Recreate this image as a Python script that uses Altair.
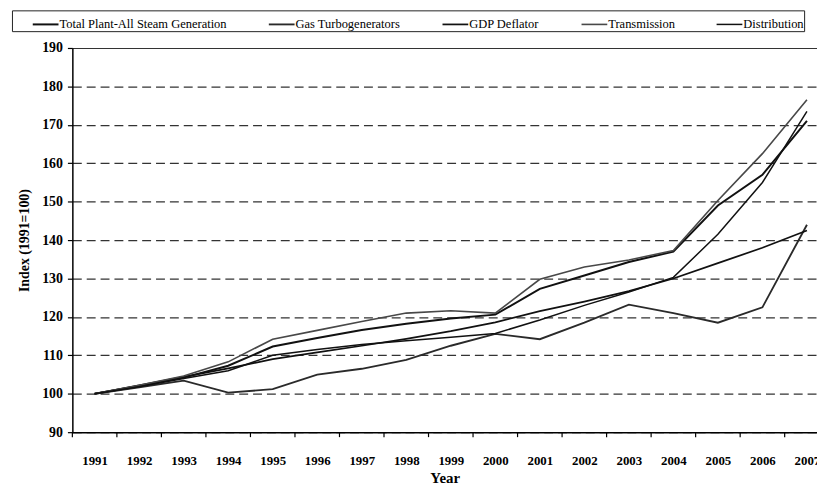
import altair as alt
import pandas as pd

years = list(range(1991, 2008))

total_plant = [100, 102.0, 104.2, 107.3, 112.3, 114.5, 116.6, 118.2, 119.6, 120.6,
               127.3, 130.8, 134.3, 137.0, 149.0, 157.0, 171.0]
gas_turbo = [100, 101.7, 103.4, 100.3, 101.2, 105.0, 106.5, 108.8, 112.5, 115.6,
             114.2, 118.5, 123.2, 121.0, 118.5, 122.5, 144.0]
gdp_deflator = [100, 102.2, 104.4, 106.6, 109.0, 110.8, 112.5, 114.3, 116.3, 118.6,
                121.5, 124.0, 126.7, 130.0, 134.0, 138.0, 142.5]
transmission = [100, 102.2, 104.6, 108.3, 114.2, 116.5, 118.8, 121.0, 121.6, 121.0,
                129.8, 133.0, 134.8, 137.3, 150.3, 162.5, 176.5]
distribution = [100, 101.8, 104.0, 106.0, 110.0, 111.5, 112.8, 113.8, 114.7, 115.7,
                119.2, 123.0, 126.5, 130.3, 141.5, 155.0, 173.5]

series_names = ["Total Plant-All Steam Generation", "Gas Turbogenerators",
                "GDP Deflator", "Transmission", "Distribution"]
series_values = [total_plant, gas_turbo, gdp_deflator, transmission, distribution]
series_colors = ["#111111", "#2a2a2a", "#111111", "#484848", "#111111"]
series_widths = [2.0, 1.5, 3.5, 1.5, 2.2]

y_ticks = list(range(90, 191, 10))
x_ticks = [y - 0.5 for y in years]

rows = []
for name, vals in zip(series_names, series_values):
    for yr, v in zip(years, vals):
        rows.append({"Year": yr, "Index": v, "Series": name})
df = pd.DataFrame(rows)
tick_df = pd.DataFrame({"Year": x_ticks})

FONT = "Liberation Serif"
x_scale = alt.Scale(domain=[1990.5, 2007.226], nice=False, zero=False)

x_axis = alt.Axis(values=years, format="d", labelFont=FONT, labelFontSize=13,
                  labelFontWeight="bold", labelColor="black",
                  labelOverlap=False, labelFlush=False, labelBound=False,
                  ticks=False, domainColor="black", domainWidth=1.5, labelPadding=23,
                  grid=False, title="Year", titleFont=FONT, titleFontSize=15,
                  titleFontWeight="bold", titleColor="black", titlePadding=3)

NBSP = "\u00a0" * 5
legend = alt.Legend(
    orient="none", legendX=-61, legendY=-38, direction="horizontal", columns=5,
    title=" ", titleOrient="left", titlePadding=20, titleFontSize=1,
    symbolType="stroke", symbolSize=676, labelFont=FONT, labelFontSize=12.6,
    labelColor="black", labelOffset=0, columnPadding=38.4, padding=0,
    strokeColor="#222222", labelLimit=0,
    labelExpr="datum.label == 'Distribution' ? datum.label + '" + NBSP + "' : datum.label",
)

lines = alt.Chart(df).mark_line().encode(
    x=alt.X("Year:Q", scale=x_scale, axis=x_axis),
    y=alt.Y("Index:Q",
            scale=alt.Scale(domain=[90, 190], nice=False, zero=False),
            axis=alt.Axis(values=y_ticks, labelFont=FONT, labelFontSize=14,
                          labelFontWeight="bold", labelColor="black",
                          tickSize=5, tickColor="black", tickWidth=1.2,
                          domainColor="black", domainWidth=1.5, labelPadding=5,
                          grid=True, gridColor="#333333", gridWidth=1.2,
                          gridDash={"condition": {"test": "datum.value === 190", "value": []},
                                    "value": [9, 5]},
                          title="Index (1991=100)", titleFont=FONT, titleFontSize=14,
                          titleFontWeight="bold", titleColor="black", titlePadding=10)),
    stroke=alt.Stroke("Series:O",
                      scale=alt.Scale(domain=series_names, range=series_colors),
                      legend=legend),
    strokeWidth=alt.StrokeWidth("Series:O",
                                scale=alt.Scale(domain=series_names, range=series_widths),
                                legend=legend),
)

ticks = alt.Chart(tick_df).mark_rule(color="black", strokeWidth=1.2).encode(
    x=alt.X("Year:Q", scale=x_scale, axis=x_axis),
    y=alt.value(388),
    y2=alt.value(393),
)

chart = alt.layer(lines, ticks).properties(
    width=752, height=388,
    autosize=alt.AutoSizeParams(type="none"),
    padding={"left": 65, "top": 38, "right": 0, "bottom": 55},
    background="white",
).configure_view(stroke=None).configure_legend(
    labelFont=FONT, labelFontSize=12.6, labelColor="black"
)

chart.save("out.html", embed_options={"renderer": "svg", "actions": False})
